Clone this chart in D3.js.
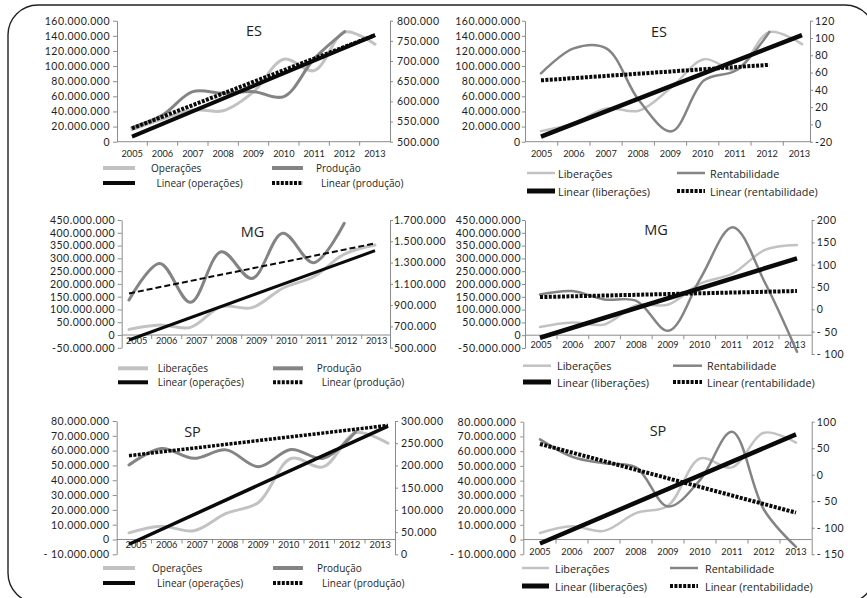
<!DOCTYPE html>
<html>
<head>
<meta charset="utf-8">
<script src="https://cdn.jsdelivr.net/npm/d3@7"></script>
<style>
  body { margin: 0; background: #fff; }
  svg text { font-family: "Open Sans", "Noto Sans", sans-serif; fill: #1e1e1e; }
</style>
</head>
<body>
<svg id="chart" width="867" height="598"></svg>
<script>
// ---------- data ----------
const years = ["2005", "2006", "2007", "2008", "2009", "2010", "2011", "2012", "2013"];

// Espírito Santo
const esOperacoes = [16e6, 30e6, 42e6, 41e6, 66e6, 109e6, 94e6, 145e6, 129e6];
const esProducao = [535e3, 566e3, 624e3, 620e3, 624e3, 612e3, 706e3, 773e3];
const esOperacoesTrend = [6.6e6, 141e6];
const esProducaoTrend = [533e3, 764e3];
const esLiberacoes = [14e6, 24e6, 44e6, 41e6, 72e6, 109e6, 95e6, 145e6, 129e6];
const esRentabilidade = [59, 88, 88, 28, -8, 51, 63, 107];
const esLiberacoesTrend = [6.6e6, 141e6];
const esRentabilidadeTrend = [51, 69];

// Minas Gerais
const mgLiberacoesA = [22e6, 39e6, 30e6, 111e6, 107e6, 183e6, 228e6, 316e6, 352e6];
const mgProducao = [948e3, 1292e3, 926e3, 1402e3, 1151e3, 1575e3, 1299e3, 1669e3];
const mgOperacoesTrend = [-19.6e6, 330e6];
const mgProducaoTrend = [1010e3, 1480e3];
const mgLiberacoesB = [32e6, 50e6, 42e6, 117e6, 120e6, 202e6, 241e6, 333e6, 352e6];
const mgRentabilidade = [33, 41, 22, 19, -48, 70, 184, 60, -95];
const mgLiberacoesTrend = [-10e6, 300e6];
const mgRentabilidadeTrend = [27.5, 41];

// São Paulo
const spOperacoes = [4.5e6, 9e6, 5.9e6, 17.6e6, 25e6, 54.7e6, 49e6, 72e6, 65e6];
const spProducao = [201e3, 238e3, 216e3, 235e3, 197e3, 236e3, 216e3, 276e3];
const spOperacoesTrend = [-3.2e6, 76.6e6];
const spProducaoTrend = [222e3, 290e3];
const spLiberacoes = [4.5e6, 9e6, 5.9e6, 18e6, 23e6, 55e6, 49e6, 72.5e6, 65.8e6];
const spRentabilidade = [66.7, 34, 21.5, 14, -60, -10, 81, -66, -136];
const spLiberacoesTrend = [-2.7e6, 71.4e6];
const spRentabilidadeTrend = [58, -71.5];

// axis tick values
const ticksES = [0, 20e6, 40e6, 60e6, 80e6, 100e6, 120e6, 140e6, 160e6];
const ticksESProducao = [500e3, 550e3, 600e3, 650e3, 700e3, 750e3, 800e3];
const ticksESRent = [-20, 0, 20, 40, 60, 80, 100, 120];
const ticksMG = [-50e6, 0, 50e6, 100e6, 150e6, 200e6, 250e6, 300e6, 350e6, 400e6, 450e6];
const ticksMGProducao = [500e3, 700e3, 900e3, 1100e3, 1300e3, 1500e3, 1700e3];
const ticksMGRent = [-100, -50, 0, 50, 100, 150, 200];
const ticksSP = [-10e6, 0, 10e6, 20e6, 30e6, 40e6, 50e6, 60e6, 70e6, 80e6];
const ticksSPProducao = [0, 50e3, 100e3, 150e3, 200e3, 250e3, 300e3];
const ticksSPRent = [-150, -100, -50, 0, 50, 100];

// ---------- styles ----------
const LIGHT = "#c2c2c2", DARK = "#848484", BLACK = "#0a0a0a", AXIS = "#8c8c8c";
const NUM_FONT = 'Lato, "Open Sans", sans-serif';
const br = d3.formatLocale({ decimal: ",", thousands: ".", grouping: [3], currency: ["", ""], minus: "-" });
const fmtInt = br.format(",d");
const fmtTight = v => fmtInt(v);
const fmtSpaced = v => v < 0 ? "- " + fmtInt(-v) : fmtInt(v);

const svg = d3.select("#chart");

// outer frame
svg.append("rect")
  .attr("x", 8).attr("y", 5).attr("width", 867).attr("height", 598)
  .attr("rx", 30).attr("ry", 30)
  .attr("fill", "none").attr("stroke", "#222").attr("stroke-width", 1.4);

const panels = [
  { // ES – operações / produção
    title: "ES", titleAt: [254, 30],
    axisX: [117, 390], band: [117, 390], points: [132, 375], xLabelGap: 9,
    left: { domain: [0, 160e6], range: [141.7, 20.7], ticks: ticksES, fmt: fmtTight, tick: 4, pad: 3 },
    right: { domain: [500e3, 800e3], range: [141.7, 20.7], ticks: ticksESProducao, fmt: fmtTight, tick: 3, pad: 4 },
    s1: { values: esOperacoes, color: LIGHT, width: 3 },
    s2: { values: esProducao, color: DARK, width: 3 },
    t1: { values: esOperacoesTrend, span: [0, 8], width: 4 },
    t2: { values: esProducaoTrend, span: [0, 8], width: 4, dash: "3,1.4" },
    legend: {
      rows: [168, 183], font: 10,
      cols: [{ sw: [103, 135], text: [151, 156.5] }, { sw: [272, 303], text: [316, 321] }],
      labels: [["Operações", "Linear (operações)"], ["Produção", "Linear (produção)"]],
      swatch: [4, 4, 4, 4]
    }
  },
  { // ES – liberações / rentabilidade
    title: "ES", titleAt: [659, 31],
    axisX: [525, 810], band: [525.5, 815.5], points: [541, 802], xLabelGap: 9,
    left: { domain: [0, 160e6], range: [141.7, 20.7], ticks: ticksES, fmt: fmtTight, tick: 3, pad: 1.5 },
    right: { domain: [-20, 120], range: [141.7, 20.7], ticks: ticksESRent, fmt: fmtTight, tick: 3, pad: 2 },
    s1: { values: esLiberacoes, color: LIGHT, width: 2.5 },
    s2: { values: esRentabilidade, color: DARK, width: 2.5 },
    t1: { values: esLiberacoesTrend, span: [0, 8], width: 4.5 },
    t2: { values: esRentabilidadeTrend, span: [0, 7], width: 4, dash: "3,1.4" },
    legend: {
      rows: [173, 191], font: 10.8,
      cols: [{ sw: [527, 555], text: [558, 558] }, { sw: [677, 705], text: [710, 710] }],
      labels: [["Liberações", "Linear (liberações)"], ["Rentabilidade", "Linear (rentabilidade)"]],
      swatch: [2.5, 5, 2.5, 4]
    }
  },
  { // MG – liberações / produção
    title: "MG", titleAt: [252.5, 231.7],
    axisX: [121.7, 390], band: [121.7, 391.7], points: [129, 375], xLabelGap: 2,
    left: { domain: [-50e6, 450e6], range: [347.8, 220], ticks: ticksMG, fmt: fmtTight, tick: 4, pad: 2.5 },
    right: { domain: [500e3, 1700e3], range: [347.7, 220], ticks: ticksMGProducao, fmt: fmtTight, tick: 3, pad: 1 },
    s1: { values: mgLiberacoesA, color: LIGHT, width: 3 },
    s2: { values: mgProducao, color: DARK, width: 3 },
    t1: { values: mgOperacoesTrend, span: [0, 8], width: 3 },
    t2: { values: mgProducaoTrend, span: [0, 8], width: 2, dash: "6,3" },
    legend: {
      rows: [368.3, 382.3], font: 10,
      cols: [{ sw: [118, 148], text: [157.7, 157.7] }, { sw: [273, 303], text: [316.7, 321.7] }],
      labels: [["Liberações", "Linear (operações)"], ["Produção", "Linear (produção)"]],
      swatch: [4, 4, 4, 4]
    }
  },
  { // MG – liberações / rentabilidade
    title: "MG", titleAt: [656, 229.7],
    axisX: [525, 811.7], band: [525.3, 810.7], points: [540, 797], xLabelGap: 6,
    left: { domain: [-50e6, 450e6], range: [348, 220], ticks: ticksMG, fmt: fmtTight, tick: 3, pad: 1 },
    right: { domain: [-100, 200], range: [354, 220], ticks: ticksMGRent, fmt: fmtSpaced, tick: 3, pad: 2 },
    s1: { values: mgLiberacoesB, color: LIGHT, width: 2.5 },
    s2: { values: mgRentabilidade, color: DARK, width: 2.5 },
    t1: { values: mgLiberacoesTrend, span: [0, 8], width: 4.5 },
    t2: { values: mgRentabilidadeTrend, span: [0, 8], width: 4, dash: "3,1.4" },
    legend: {
      rows: [365.7, 382], font: 10.8,
      cols: [{ sw: [523, 551], text: [557, 557] }, { sw: [673, 702], text: [707, 707] }],
      labels: [["Liberações", "Linear (liberações)"], ["Rentabilidade", "Linear (rentabilidade)"]],
      swatch: [2.5, 5, 2.5, 4]
    }
  },
  { // SP – operações / produção
    title: "SP", titleAt: [192.5, 431.7],
    axisX: [116.7, 395], band: [121, 395.5], points: [129, 388], xLabelGap: 2,
    left: { domain: [-10e6, 80e6], range: [554.3, 421], ticks: ticksSP, fmt: fmtSpaced, tick: 4, pad: 3 },
    right: { domain: [0, 300e3], range: [554.3, 421], ticks: ticksSPProducao, fmt: fmtTight, tick: 3, pad: 3 },
    s1: { values: spOperacoes, color: LIGHT, width: 3 },
    s2: { values: spProducao, color: DARK, width: 3 },
    t1: { values: spOperacoesTrend, span: [0, 8], width: 3.5 },
    t2: { values: spProducaoTrend, span: [0, 8], width: 3.5, dash: "3,1.4" },
    legend: {
      rows: [568, 583], font: 10,
      cols: [{ sw: [103, 135], text: [152, 157] }, { sw: [273, 303], text: [317, 322] }],
      labels: [["Operações", "Linear (operações)"], ["Produção", "Linear (produção)"]],
      swatch: [4, 4, 4, 4]
    }
  },
  { // SP – liberações / rentabilidade
    title: "SP", titleAt: [658, 430.5],
    axisX: [523.3, 811.7], band: [524, 812], points: [540, 796], xLabelGap: 9,
    left: { domain: [-10e6, 80e6], range: [554.3, 421.7], ticks: ticksSP, fmt: fmtSpaced, tick: 3, pad: 4 },
    right: { domain: [-150, 100], range: [554.3, 421.7], ticks: ticksSPRent, fmt: fmtSpaced, tick: 3, pad: 2 },
    s1: { values: spLiberacoes, color: LIGHT, width: 2.5 },
    s2: { values: spRentabilidade, color: DARK, width: 2.5 },
    t1: { values: spLiberacoesTrend, span: [0, 8], width: 4.5 },
    t2: { values: spRentabilidadeTrend, span: [0, 8], width: 4, dash: "3,1.4" },
    legend: {
      rows: [568, 586], font: 10.8,
      cols: [{ sw: [522, 549], text: [555, 555] }, { sw: [670, 698], text: [705, 705] }],
      labels: [["Liberações", "Linear (liberações)"], ["Rentabilidade", "Linear (rentabilidade)"]],
      swatch: [2.5, 5, 2.5, 4]
    }
  }
];

function styleAxis(g) {
  g.select(".domain").attr("stroke", AXIS).attr("stroke-width", 1);
  g.selectAll(".tick line").attr("stroke", AXIS).attr("stroke-width", 1);
  g.selectAll(".tick text").attr("font-size", 10.5).attr("fill", "#1e1e1e")
    .attr("letter-spacing", 0.5)
    .style("font-family", NUM_FONT);
}

function drawPanel(p) {
  const g = svg.append("g");
  const yL = d3.scaleLinear().domain(p.left.domain).range(p.left.range);
  const yR = d3.scaleLinear().domain(p.right.domain).range(p.right.range);
  const xb = d3.scaleBand().domain(years).range(p.band);
  const xp = d3.scalePoint().domain(years).range(p.points);
  const y0 = yL(0);

  // left value axis
  const gl = g.append("g").attr("transform", `translate(${p.axisX[0]},0)`)
    .call(d3.axisLeft(yL).tickValues(p.left.ticks).tickFormat(p.left.fmt)
      .tickSize(p.left.tick).tickSizeOuter(0).tickPadding(p.left.pad));
  styleAxis(gl);

  // right value axis
  const gr = g.append("g").attr("transform", `translate(${p.axisX[1]},0)`)
    .call(d3.axisRight(yR).tickValues(p.right.ticks).tickFormat(p.right.fmt)
      .tickSize(p.right.tick).tickSizeOuter(0).tickPadding(p.right.pad));
  styleAxis(gr);

  // category axis along zero of the left scale
  g.append("line")
    .attr("x1", p.axisX[0]).attr("x2", p.axisX[1]).attr("y1", y0).attr("y2", y0)
    .attr("stroke", AXIS).attr("stroke-width", 1);
  g.selectAll(".xtick").data(years.slice(1)).join("line")
    .attr("x1", d => xb(d)).attr("x2", d => xb(d))
    .attr("y1", y0).attr("y2", y0 + 4)
    .attr("stroke", AXIS).attr("stroke-width", 1);
  const gx = g.append("g").attr("transform", `translate(0,${y0})`)
    .call(d3.axisBottom(xb).tickSize(0).tickPadding(p.xLabelGap));
  gx.select(".domain").remove();
  gx.selectAll(".tick text").attr("font-size", 9.2).attr("fill", "#1e1e1e")
    .style("font-family", NUM_FONT);

  // smoothed series
  const seriesLine = (y) => d3.line()
    .x((d, i) => xp(years[i])).y(d => y(d))
    .curve(d3.curveCatmullRom.alpha(0.5));
  g.append("path").datum(p.s1.values)
    .attr("d", seriesLine(yL)).attr("fill", "none")
    .attr("stroke", p.s1.color).attr("stroke-width", p.s1.width).attr("stroke-linecap", "round");
  g.append("path").datum(p.s2.values)
    .attr("d", seriesLine(yR)).attr("fill", "none")
    .attr("stroke", p.s2.color).attr("stroke-width", p.s2.width).attr("stroke-linecap", "round");

  // linear trend lines
  const trend = (t, y) => {
    const pts = [[t.span[0], t.values[0]], [t.span[1], t.values[1]]];
    return d3.line().x(d => xp(years[d[0]])).y(d => y(d[1]))(pts);
  };
  g.append("path").attr("d", trend(p.t2, yR)).attr("fill", "none")
    .attr("stroke", BLACK).attr("stroke-width", p.t2.width)
    .attr("stroke-dasharray", p.t2.dash);
  g.append("path").attr("d", trend(p.t1, yL)).attr("fill", "none")
    .attr("stroke", BLACK).attr("stroke-width", p.t1.width);

  // title
  g.append("text").attr("x", p.titleAt[0]).attr("y", p.titleAt[1])
    .attr("text-anchor", "middle").attr("dominant-baseline", "central")
    .attr("font-size", 14.5).text(p.title);

  // legend
  const L = p.legend;
  const swStyle = [
    { color: p.s1.color }, { color: BLACK },
    { color: p.s2.color }, { color: BLACK, dash: "3,1.4" }
  ];
  L.cols.forEach((c, ci) => {
    L.rows.forEach((ry, ri) => {
      const k = ci * 2 + ri;
      const st = swStyle[k];
      g.append("line").attr("x1", c.sw[0]).attr("x2", c.sw[1]).attr("y1", ry).attr("y2", ry)
        .attr("stroke", st.color).attr("stroke-width", L.swatch[k])
        .attr("stroke-dasharray", st.dash || null);
      g.append("text").attr("x", c.text[ri]).attr("y", ry)
        .attr("dominant-baseline", "central").attr("font-size", L.font)
        .text(L.labels[ci][ri]);
    });
  });
}

panels.forEach(drawPanel);
</script>
</body>
</html>
